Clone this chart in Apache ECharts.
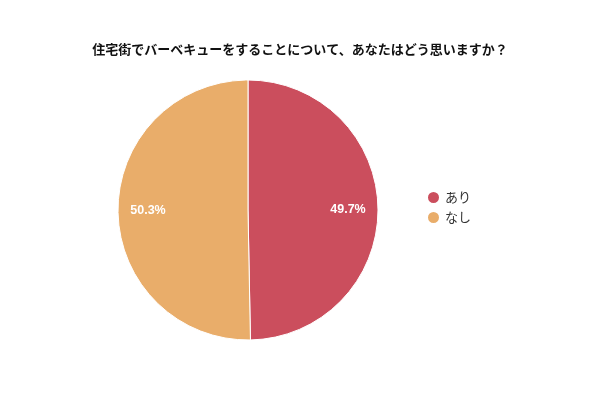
<!DOCTYPE html>
<html>
<head>
<meta charset="utf-8">
<script src="https://cdn.jsdelivr.net/npm/echarts@6/dist/echarts.min.js"></script>
<style>
  html, body { margin: 0; padding: 0; background: #fff; }
  #chart { width: 600px; height: 400px; }
</style>
</head>
<body>
<div id="chart"></div>
<script>
const titleText = '住宅街でバーベキューをすることについて、あなたはどう思いますか？';
const names = ['あり', 'なし'];
const values = [49.7, 50.3];
const colors = ['#cb4e5d', '#e9ad6a'];

const chart = echarts.init(document.getElementById('chart'));
const font = '"Noto Sans CJK JP", "Noto Sans", sans-serif';

const pieData = names.map((n, i) => ({ name: n, value: values[i], itemStyle: { color: colors[i] } }));

chart.setOption({
  animation: false,
  textStyle: { fontFamily: font },
  title: {
    text: titleText,
    left: 'center',
    top: 38,
    textStyle: { fontSize: 13, fontWeight: 'bold', color: '#111', fontFamily: font }
  },
  legend: {
    orient: 'vertical',
    left: 421,
    top: 185,
    icon: 'circle',
    itemWidth: 13,
    itemHeight: 13,
    itemGap: 5,
    data: names,
    textStyle: { fontSize: 13, color: '#333', fontFamily: font }
  },
  series: [
    {
      type: 'pie',
      center: [248, 210],
      radius: [0, 130],
      startAngle: 90,
      clockwise: true,
      data: pieData,
      itemStyle: { borderColor: '#fff', borderWidth: 1 },
      label: { show: false },
      labelLine: { show: false },
      emphasis: { scale: false }
    },
    {
      type: 'pie',
      center: [248, 210],
      radius: [64, 130],
      startAngle: 90,
      clockwise: true,
      silent: true,
      legendHoverLink: false,
      data: names.map((n, i) => ({ name: n + ' ', value: values[i], itemStyle: { color: 'transparent' } })),
      label: {
        show: true,
        position: 'inside',
        formatter: p => values[p.dataIndex].toFixed(1) + '%',
        color: '#fff',
        fontSize: 12.5,
        fontWeight: 'bold',
        fontFamily: 'Arial, "Liberation Sans", sans-serif'
      },
      labelLine: { show: false }
    }
  ]
});
</script>
</body>
</html>
